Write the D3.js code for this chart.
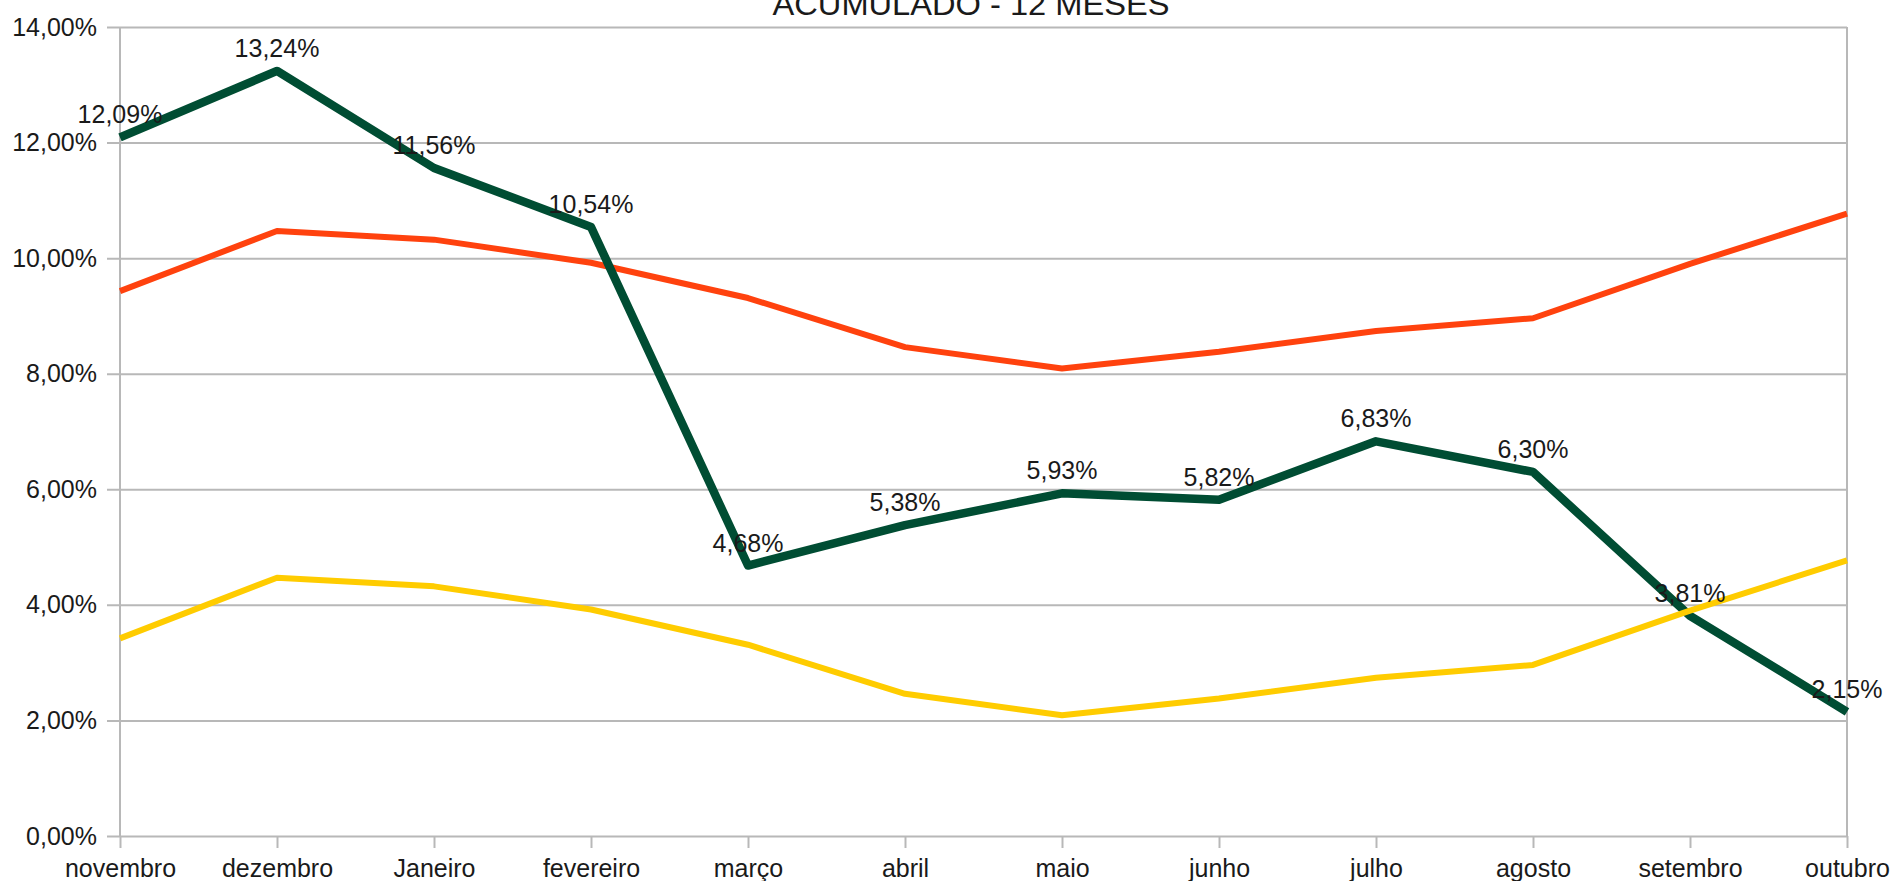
<!DOCTYPE html>
<html>
<head>
<meta charset="utf-8">
<script src="https://cdn.jsdelivr.net/npm/d3@7"></script>
<style>
  html, body { margin: 0; padding: 0; background: #fff; }
  svg { display: block; }
  text { font-family: "Liberation Sans", Arial, sans-serif; fill: #1a1a1a; }
</style>
</head>
<body>
<svg id="chart" width="1891" height="881"></svg>
<script>
const categories = ["novembro", "dezembro", "Janeiro", "fevereiro", "março", "abril", "maio", "junho", "julho", "agosto", "setembro", "outubro"];
const seriesGreen = [12.09, 13.24, 11.56, 10.54, 4.68, 5.38, 5.93, 5.82, 6.83, 6.30, 3.81, 2.15];
const seriesRed = [9.43, 10.47, 10.32, 9.92, 9.31, 8.46, 8.09, 8.38, 8.74, 8.96, 9.90, 10.77];
const seriesYellow = [3.42, 4.47, 4.32, 3.92, 3.31, 2.46, 2.09, 2.38, 2.74, 2.96, 3.90, 4.77];
const yTicks = [0, 2, 4, 6, 8, 10, 12, 14];
const chartTitle = "ACUMULADO - 12 MESES";

const fmt = v => v.toFixed(2).replace(".", ",") + "%";

(function () {
const svg = d3.select("#chart");
const pLeft = 120, pRight = 1847, pTop = 27, pBottom = 836;
const fs = 25;

const x = d3.scalePoint().domain(categories).range([pLeft, pRight]);
const y = d3.scaleLinear().domain([0, 14]).range([pBottom, pTop]);

// Gridlines + y labels
const yAxis = d3.axisLeft(y)
  .tickValues(yTicks)
  .tickSize(-(pRight - (pLeft - 13)))
  .tickPadding(10)
  .tickFormat(fmt);
const gy = svg.append("g").attr("transform", `translate(${pLeft - 13},0)`).call(yAxis);
gy.select(".domain").remove();
gy.selectAll(".tick line").attr("stroke", "#b8b8b8").attr("stroke-width", 2);
gy.selectAll(".tick text").attr("font-size", fs).attr("fill", "#1a1a1a")
  .style("font-family", "'Liberation Sans', Arial, sans-serif");

// x axis ticks + labels
const xAxis = d3.axisBottom(x).tickSize(12).tickPadding(11);
const gx = svg.append("g").attr("transform", `translate(0,${pBottom})`).call(xAxis);
gx.select(".domain").remove();
gx.selectAll(".tick line").attr("stroke", "#b8b8b8").attr("stroke-width", 2);
gx.selectAll(".tick text").attr("font-size", fs).attr("fill", "#1a1a1a")
  .style("font-family", "'Liberation Sans', Arial, sans-serif");

// vertical frame lines
[categories[0], categories[categories.length - 1]].forEach(c => {
  svg.append("line")
    .attr("x1", x(c)).attr("x2", x(c))
    .attr("y1", y(14)).attr("y2", y(0))
    .attr("stroke", "#b8b8b8").attr("stroke-width", 2);
});

const line = d3.line()
  .x((d, i) => x(categories[i]))
  .y(d => y(d));

function drawSeries(data, color, width) {
  svg.append("path")
    .datum(data)
    .attr("d", line)
    .attr("fill", "none")
    .attr("stroke", color)
    .attr("stroke-width", width)
    .attr("stroke-linejoin", "round")
    .attr("stroke-linecap", "butt");
}

drawSeries(seriesRed, "#ff420e", 6);
drawSeries(seriesGreen, "#004d33", 8.5);
drawSeries(seriesYellow, "#ffcc00", 6);

// data labels for green series
svg.append("g").selectAll("text")
  .data(seriesGreen)
  .join("text")
  .attr("x", (d, i) => x(categories[i]))
  .attr("y", d => y(d) - 14)
  .attr("text-anchor", "middle")
  .attr("font-size", fs)
  .text(d => fmt(d));

// title
svg.append("text")
  .attr("x", 971)
  .attr("y", 15)
  .attr("text-anchor", "middle")
  .attr("font-size", 32)
  .attr("textLength", 397)
  .attr("lengthAdjust", "spacingAndGlyphs")
  .text(chartTitle);
})();
</script>
</body>
</html>
